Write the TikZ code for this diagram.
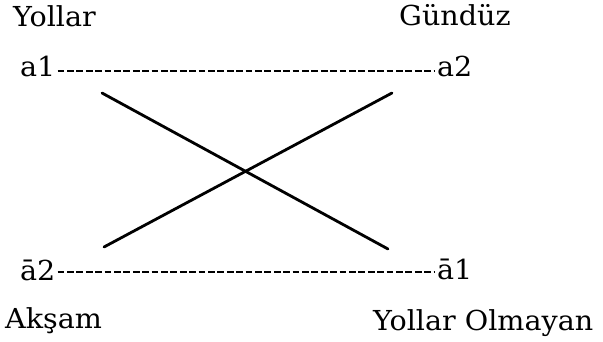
\documentclass[tikz,border=0pt]{standalone}
\usepackage{fontspec}
\setmainfont[FakeStretch=1.04]{DejaVu Serif}
\begin{document}
\begin{tikzpicture}[x=1pt,y=-1pt,
  lbl/.style={inner sep=0pt, anchor=base west, font=\fontsize{27.5}{30}\selectfont},
  dashline/.style={line width=1.5pt, dash pattern=on 6.7pt off 2.7pt},
  crossline/.style={line width=2.8pt, line cap=round}]
\useasboundingbox (0,0) rectangle (603,342);
\node[lbl] (yollar) at (13,27) {Yollar};
\node[lbl] (gunduz) at (399,26) {Gündüz};
\node[lbl] (a1) at (20,77) {a1};
\node[lbl] (a2) at (437,77) {a2};
\node[lbl] (b2) at (20,280) {ā2};
\node[lbl] (b1) at (437,279) {ā1};
\node[lbl] (aksam) at (5,328) {Akşam};
\node[lbl] (olm) at (373,330) {Yollar Olmayan};
\draw[dashline] ([xshift=2pt,yshift=6pt]a1.base east) -- ([xshift=-2pt,yshift=6pt]a2.base west);
\draw[dashline] ([xshift=2pt,yshift=8pt]b2.base east) -- ([xshift=-2pt,yshift=7pt]b1.base west);
\coordinate (p1) at (102,93);
\coordinate (p2) at (388,249);
\coordinate (p3) at (104,247);
\coordinate (p4) at (392,93);
\draw[crossline] (p1) -- (p2);
\draw[crossline] (p3) -- (p4);
\end{tikzpicture}
\end{document}
